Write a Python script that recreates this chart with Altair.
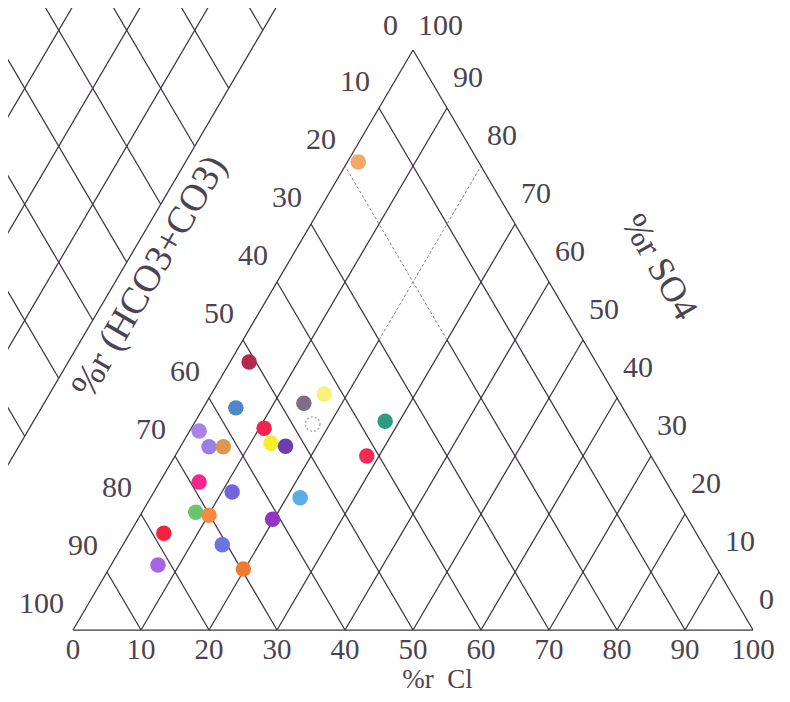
import altair as alt
import pandas as pd

# ---- sample values (percent of anions) ----
cl_pct = [2.8, 4.8, 1.4, 4.2, 6.3, 10.7, 13.0, 15.4, 14.4, 16.6, 17.5, 27.9,
          28.2, 5.8, 11.5, 22.0, 7.9, 10.1, 19.8, 5.0, 14.6, 6.9, 19.8, 1.6]
so4_pct = [46.2, 38.3, 34.3, 31.6, 31.6, 34.8, 32.2, 31.7, 39.1, 40.7, 35.5, 36.0,
           30.0, 25.5, 23.8, 22.8, 20.3, 19.8, 19.1, 16.7, 14.7, 11.2, 10.5, 80.7]
fill_colors = ["#b3284f", "#4f86c6", "#a982e8", "#9a80e6", "#e0964e", "#f2234e",
               "#f4ef2a", "#6c3cb4", "#7d6e88", "#f6f27a", "#ffffff", "#2e9a82",
               "#f22a5a", "#f2288c", "#7462de", "#5aaee8", "#6cc46a", "#f28a40",
               "#9434c4", "#f0243e", "#6a74e2", "#a464e4", "#f07a34", "#f2a868"]
is_open = [0] * 10 + [1] + [0] * 13

ticks = [0, 10, 20, 30, 40, 50, 60, 70, 80, 90, 100]
inner = [10, 20, 30, 40, 50, 60, 70, 80, 90]
faint_lines = [20]          # lines drawn pale in their upper part
faint_from = 50             # SO4 level above which they are pale

# Piper diamond lattice (partly visible, left of the triangle), in Cl-axis units
diamond_edge = -23.8
diamond_upright = [-33.8, -43.8, -53.8, -63.8]
diamond_upleft = [9.6, 19.6, 29.6, 39.6, 49.6, 59.6, 69.6, 79.6]

# ---- geometry (u along the base, v = SO4 height) ----
segs, faint = [], []
def seg(lst, u1, v1, u2, v2):
    lst.append({"x": u1, "y": v1, "x2": u2, "y2": v2})

seg(segs, 0, 0, 100, 0)
seg(segs, 0, 0, 50, 100)
seg(segs, 100, 0, 50, 100)
for k in inner:
    top = 100 - k
    if k in faint_lines:
        seg(segs, k, 0, k + faint_from / 2, faint_from)
        seg(faint, k + faint_from / 2, faint_from, k + top / 2, top)
    else:
        seg(segs, k, 0, k + top / 2, top)
    c = 100 - k
    if k in faint_lines:
        seg(segs, c, 0, c - faint_from / 2, faint_from)
        seg(faint, c - faint_from / 2, faint_from, c / 2, c)
    else:
        seg(segs, c, 0, c / 2, c)

seg(segs, diamond_edge - 10, -20, diamond_edge + 65, 130)
for d in diamond_upright:
    seg(segs, d - 10, -20, d + 65, 130)
for c in diamond_upleft:
    v0 = c - diamond_edge
    seg(segs, c - v0 / 2, v0, c - 65, 130)

seg_df = pd.DataFrame(segs)
faint_df = pd.DataFrame(faint)

pts = pd.DataFrame({
    "Cl": cl_pct, "SO4": so4_pct, "fill": fill_colors, "open": is_open,
})
pts["u"] = pts["Cl"] + pts["SO4"] / 2
pts["v"] = pts["SO4"]

X = alt.Scale(domain=[-9.56, 104.26], nice=False, zero=False)
Y = alt.Scale(domain=[-11.03, 107.24], nice=False, zero=False)
LINE = "#3e3440"
TXT = "#4b4450"
FONT = "Liberation Serif"

def xq(f):
    return alt.X(f, type="quantitative", scale=X, axis=None)
def yq(f):
    return alt.Y(f, type="quantitative", scale=Y, axis=None)

grid = alt.Chart(seg_df).mark_rule(color=LINE, strokeWidth=1.25, clip=True).encode(
    x=xq("x"), y=yq("y"), x2="x2:Q", y2="y2:Q")
grid_faint = alt.Chart(faint_df).mark_rule(color="#8a8290", strokeWidth=1,
                                           strokeDash=[3, 2], clip=True).encode(
    x=xq("x"), y=yq("y"), x2="x2:Q", y2="y2:Q")

filled = alt.Chart(pts).transform_filter("datum.open == 0").mark_circle(
    size=240, opacity=1).encode(
    x=xq("u"), y=yq("v"),
    color=alt.Color("fill:N", scale=None, legend=None))
hollow = alt.Chart(pts).transform_filter("datum.open == 1").mark_point(
    shape="circle", size=210, filled=False, color="#857d88", strokeWidth=1.3,
    strokeDash=[2, 2]).encode(x=xq("u"), y=yq("v"))

tick_df = pd.DataFrame({"t": ticks})
TS = 30
bottom = alt.Chart(tick_df).transform_calculate(u="datum.t", v="0").mark_text(
    font=FONT, fontSize=29, color=TXT, dy=20, align="center", baseline="middle"
).encode(x=xq("u"), y=yq("v"), text="t:N")
left = alt.Chart(tick_df).transform_filter("datum.t > 0").transform_calculate(
    u="(100 - datum.t) / 2", v="100 - datum.t").mark_text(
    font=FONT, fontSize=TS, color=TXT, dx=-9, dy=-26, align="right", baseline="middle"
).encode(x=xq("u"), y=yq("v"), text="t:N")
left_top = alt.Chart(tick_df).transform_filter("datum.t == 0").transform_calculate(
    u="(100 - datum.t) / 2", v="100 - datum.t").mark_text(
    font=FONT, fontSize=TS, color=TXT, dx=-15, dy=-24, align="right", baseline="middle"
).encode(x=xq("u"), y=yq("v"), text="t:N")
right = alt.Chart(tick_df).transform_filter("datum.t < 100").transform_calculate(
    u="100 - datum.t / 2", v="datum.t").mark_text(
    font=FONT, fontSize=TS, color=TXT, dx=6, dy=-30, align="left", baseline="middle"
).encode(x=xq("u"), y=yq("v"), text="t:N")
right_top = alt.Chart(tick_df).transform_filter("datum.t == 100").transform_calculate(
    u="100 - datum.t / 2", v="datum.t").mark_text(
    font=FONT, fontSize=TS, color=TXT, dx=5, dy=-24, align="left", baseline="middle"
).encode(x=xq("u"), y=yq("v"), text="t:N")

titles_df = pd.DataFrame({
    "label": ["%r\u00a0\u00a0Cl", "%r SO4", "%r (HCO3+CO3)"],
    "u": [53.6, 86.2, 11.3],
    "v": [-8.6, 62.6, 60.9],
    "angle": [0, 60, 300],
    "size": [27, 36, 38],
})
titles = []
for i in range(len(titles_df)):
    r = titles_df.iloc[i]
    titles.append(alt.Chart(titles_df.iloc[[i]]).mark_text(
        font=FONT, fontSize=int(r["size"]), color=TXT, align="center",
        baseline="middle", angle=int(r["angle"])).encode(
        x=xq("u"), y=yq("v"), text="label:N"))

chart = alt.layer(grid, grid_faint, filled, hollow, bottom, left, left_top,
                  right, right_top, *titles).properties(
    width=774, height=686, padding=0,
    autosize=alt.AutoSizeParams(type="none"),
).configure_view(strokeWidth=0)

chart.save("out.html", embed_options={"renderer": "svg", "actions": False})
